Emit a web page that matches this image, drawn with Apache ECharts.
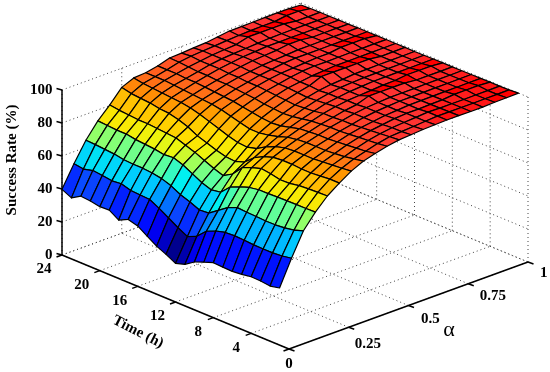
<!DOCTYPE html>
<html><head><meta charset="utf-8">
<style>html,body{margin:0;padding:0;background:#fff}#c{width:550px;height:372px}</style>
<script src="https://cdn.jsdelivr.net/npm/echarts@6/dist/echarts.min.js"></script>
</head><body><div id="c"></div>
<script>
// Success rate per alpha step (0, 0.05 ... 1); each list runs over time t = 1 ... 24 h
const zA00=[34.6,33.4,34.1,34.3,33.4,32.8,33,33.3,31.3,29,25.2,23.4,26.5,29.1,32.8,36.6,38.2,35.4,39.1,38.8,39.8,40.4,37,39.8];
const zA01=[50,49,48.5,48.5,48.6,49,49.3,49,47.5,45,39.6,37,40,43.5,47,50,50.3,50.7,52.4,51.8,52.7,53.3,51.8,52.7];
const zA02=[64,62,61,60.5,60.4,60.8,61,61.4,59,55,51,50.5,53,55,58,60,61,61.6,61.6,62,63,63.5,64,64.3];
const zA03=[72.7,72.5,72.5,72.4,72.3,72,72,71,69,66.5,61,60,62,65,68,70,69.5,70.5,71,71.5,72.5,72.5,73,73.4];
const zA04=[79.8,79.6,79.4,79,78,77.8,79,79.8,78,75.6,69.4,66,68,70.5,73,75,77,77.5,78,78.5,78.5,79,79.5,80.4];
const zA05=[85,85,84.5,84,84,84.5,84.5,84,82,79,74,72,72.5,74,76,78,81,83,84.5,85,86,86.5,87,88.4];
const zA06=[89.6,89,88.5,88,87.5,87.5,87.5,87,85.5,83,79.5,78,78.5,80,82,84,86,87.5,88.5,89,89.5,90,90.5,91.5];
const zA07=[93,92,91,90.5,90,90,90,89.5,88.5,86.5,85,84,84,85.5,87,88.5,89.5,90,90.5,91,91.5,92,92,92];
const zA08=[95,94,93.5,93,92.5,92,92,91.5,91,89.5,88,87.5,88,89,90,91,91.5,92,92.5,93,93,93.5,93.5,93.5];
const zA09=[96.8,96,95.5,95,94.5,94,94,93.5,93,92,91,90.5,91,91.5,92.5,93,93.5,94,94,94.5,94.5,95,95.5,95.7];
const zA10=[98,97.5,97,96.5,96,95.5,95.5,95,95,94,93.5,93,93.5,94,94.5,95,95,95.5,95.5,96,96,96,96.5,96];
const zA11=[98.5,98,98,97.5,97,97,97,96.5,96.5,96,95.5,95,95.5,96,96,96.5,96.5,96.5,97,97,97,97,97,96.5];
const zA12=[99,98.5,98.5,98.5,98,98,98,97.5,97.5,97,97,96.5,97,97,97.5,97.5,97.5,97.5,98,98,97.5,97.5,97.5,96.9];
const zA13=[99.3,99,99,99,98.5,98.5,98.5,100,98,98,98,97.5,100,98,98.5,98,98.5,98,98.5,98.5,98,98,98,97.8];
const zA14=[99.5,99.5,99.5,99,99,99,99,100,98.5,98.5,98.5,98,100,98.5,99,98.5,99,98.5,99,99,98.5,100,98.5,98.8];
const zA15=[99.5,99.4,99.3,99.2,99.1,99,99,100,99,99,98.8,98.7,100,99,98.9,99,99,99,100,99,98.9,100,98.8,98.9];
const zA16=[99.4,99.4,99.3,99.3,99.2,99.1,99,100,99.2,99,98.9,98.8,100,99,99,99,99,99,100,99.1,99,100,99,99];
const zA17=[99.4,99.4,99.3,100,99.3,99.2,99.2,99.2,100,99.1,99,99,100,99.1,99.1,100,99.1,99.1,99,99.1,99.1,100,99,99.2];
const zA18=[99.7,99.5,99.4,100,99.3,99.2,99.2,99.2,100,99.1,99,99,99,99.1,99.1,100,99.1,99.1,99.1,99.1,99.1,99,100,99.3];
const zA19=[99.8,99.5,99.4,100,99.4,99.3,99.2,99.2,100,99.2,99.1,99,99.1,99.1,99.2,100,99.1,99.1,99.1,99.1,99.1,99,100,99.2];
const zA20=[100,99.6,99.5,99.5,99.4,99.4,99.3,99.3,99.3,99.3,99.2,99.1,99.2,99.2,99.2,99.2,99.2,99.2,99.1,99.1,99.1,99.1,99,98.8];
const surface=[zA00,zA01,zA02,zA03,zA04,zA05,zA06,zA07,zA08,zA09,zA10,zA11,zA12,zA13,zA14,zA15,zA16,zA17,zA18,zA19,zA20];
const alphaStep=0.05, firstHour=1;

const timeTicks=[0,4,8,12,16,20,24];
const alphaTicks=[0,0.25,0.5,0.75,1];
const alphaTickLabels=['0','0.25','0.5','0.75','1'];
const zTicks=[0,20,40,60,80,100];

// colour ramp: success rate -> colour
const rampZ=[23,30,34,40,45,50,55,60,65,70,74,78,80,85,90,94,97,99,99.7];
const rampC=[[0,0,135],[0,0,255],[0,20,255],[10,70,255],[0,130,255],[0,200,255],[0,240,240],[90,255,160],[160,255,90],[235,245,15],[255,225,0],[255,205,0],[255,185,5],[255,150,0],[255,112,22],[255,80,38],[255,58,48],[255,50,50],[255,0,0]];
function colorOf(z){
  if(z<=rampZ[0])return 'rgb('+rampC[0]+')';
  for(let i=1;i<rampZ.length;i++){ if(z<=rampZ[i]){const f=(z-rampZ[i-1])/(rampZ[i]-rampZ[i-1]);
    return 'rgb('+rampC[i].map((c,j)=>Math.round(rampC[i-1][j]+(c-rampC[i-1][j])*f)).join(',')+')';}}
  return 'rgb('+rampC[rampC.length-1]+')';
}
// oblique view of the 3-D box (screen axes run in pixels of the hidden 2-D axes)
const O=[289,349], TV=[-227/24,-94/24], AV=[239,-87], ZV=-1.65;
function P(t,a,z){return [O[0]+TV[0]*t+AV[0]*a, O[1]+TV[1]*t+AV[1]*a+ZV*z];}

const cells=[];
for(let i=surface[0].length-2;i>=0;i--){
  for(let k=surface.length-2;k>=0;k--){
    cells.push([firstHour+i,k*alphaStep,surface[k][i],surface[k+1][i],surface[k+1][i+1],surface[k][i+1]]);
  }
}
function renderCell(p,api){
  const t=api.value(0),a=api.value(1);
  const q=[P(t,a,api.value(2)),P(t,a+alphaStep,api.value(3)),P(t+1,a+alphaStep,api.value(4)),P(t+1,a,api.value(5))].map(v=>api.coord(v));
  return {type:'polygon',shape:{points:q},style:{fill:colorOf(api.value(2)),stroke:'#000',lineWidth:1.2,lineJoin:'round'},silent:true};
}
// grid and axis segments
const dots=[],axes=[],labels=[];
function seg(list,a,b){list.push([a[0],a[1],b[0],b[1]]);}
timeTicks.forEach(t=>{
  seg(dots,P(t,0,0),P(t,1,0));
  if(t<24)seg(dots,P(t,1,0),P(t,1,100));
});
alphaTicks.forEach(a=>{
  seg(dots,P(0,a,0),P(24,a,0));
  seg(dots,P(24,a,0),P(24,a,100));
});
zTicks.forEach(z=>{
  seg(dots,P(24,0,z),P(24,1,z));
  seg(dots,P(24,1,z),P(0,1,z));
});
seg(axes,P(24,0,0),P(24,0,100));
seg(axes,P(24,0,0),P(0,0,0));
seg(axes,P(0,0,0),P(0,1,0));
zTicks.forEach(z=>{const s=P(24,0,z);seg(axes,s,[s[0]-5.5,s[1]-1.5]);});
timeTicks.forEach(t=>{const s=P(t,0,0);seg(axes,s,[s[0]-5.5,s[1]+2]);});
alphaTicks.forEach(a=>{const s=P(0,a,0);seg(axes,s,[s[0]+5.5,s[1]+2]);});

const alphaOff=[[0,15],[19,16.5],[21.8,14],[24.5,12],[15.7,10.7]];
const F='"Liberation Serif","Times New Roman",serif';
function addLabel(text,pos,opt){labels.push(Object.assign({value:[pos[0],pos[1]],text:text},opt||{}));}
zTicks.forEach(z=>{const s=P(24,0,z);addLabel(String(z),[52.5,s[1]],{align:'right'});});
timeTicks.filter(t=>t>0).forEach(t=>{const s=P(t,0,0);const L=String(t).length;addLabel(String(t),[s[0]-12-3*L,s[1]+14.5]);});
alphaTickLabels.forEach((l,i)=>{const s=P(0,alphaTicks[i],0);addLabel(l,[s[0]+alphaOff[i][0],s[1]+alphaOff[i][1]]);});
addLabel('Time (h)',[138,332],{rot:-27});
addLabel('Success Rate (%)',[12,160],{rot:90,size:15});
addLabel('α',[449,330],{size:22,weight:'normal'});

function segSeries(list,style,z){
  return {type:'custom',z:z,silent:true,animation:false,clip:false,data:list,encode:{x:[0,2],y:[1,3]},
    renderItem:(p,api)=>{const a=api.coord([api.value(0),api.value(1)]),b=api.coord([api.value(2),api.value(3)]);
      return {type:'line',shape:{x1:a[0],y1:a[1],x2:b[0],y2:b[1]},style:style,silent:true};}};
}
const chart=echarts.init(document.getElementById('c'),null,{renderer:'canvas'});
chart.setOption({
  animation:false,backgroundColor:'#fff',
  grid:{left:0,right:0,top:0,bottom:0},
  xAxis:{type:'value',min:0,max:550,show:false},
  yAxis:{type:'value',min:0,max:372,inverse:true,show:false},
  series:[
    segSeries(dots,{stroke:'#444',lineWidth:1,lineDash:[1,3]},1),
    {type:'custom',z:2,silent:true,animation:false,clip:false,data:cells,encode:{x:[],y:[]},renderItem:renderCell},
    segSeries(axes,{stroke:'#000',lineWidth:1.5},3),
    {type:'custom',z:4,silent:true,animation:false,clip:false,data:labels,encode:{x:0,y:1},
      renderItem:(p,api)=>{const d=labels[p.dataIndex],c=api.coord(d.value);
        return {type:'text',x:c[0],y:c[1],rotation:(d.rot||0)*Math.PI/180,silent:true,
          style:{text:d.text,textAlign:d.align||'center',textVerticalAlign:'middle',fill:'#000',
            font:(d.weight||'bold')+' '+(d.size||15)+'px '+F}};}}
  ]
});
</script></body></html>
